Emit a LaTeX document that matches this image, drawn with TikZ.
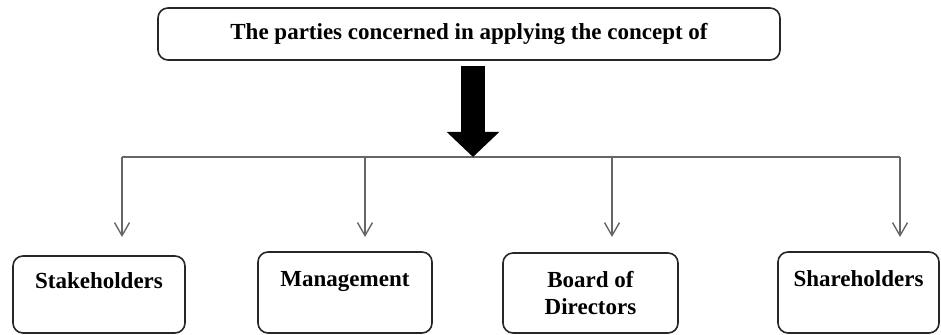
\documentclass[tikz,border=0pt]{standalone}
\usepackage{fontspec}
\setmainfont{Liberation Serif}
\usepackage{tikz}
\usetikzlibrary{arrows.meta}
\usetikzlibrary{calc}

\tikzset{
  party/.style={draw=black!85, line width=0.8pt, rounded corners=5pt, align=center,
    inner sep=0pt, font=\fontsize{11.5}{13.5}\selectfont\bfseries},
  branch/.style={draw=black!60, line width=0.7pt},
}

\begin{document}
\begin{tikzpicture} [x=0.5pt, y=-0.5pt]
\useasboundingbox (0,0) rectangle (941,335);
% heading box
\node[party, minimum width=311pt, minimum height=26pt] (top) at (469,34)
  {The parties concerned in applying the concept of};
% the four parties
\node[party, minimum width=86pt, minimum height=38.5pt] (stake) at (99,294.5) {Stakeholders\\ \mbox{}};
\node[party, minimum width=87pt, minimum height=40.5pt] (mgmt) at (345,292.5) {Management\\ \mbox{}};
\node[party, minimum width=87.5pt, minimum height=40pt] (board) at (590.5,293) {Board of\\ Directors};
\node[party, minimum width=80.5pt, minimum height=40.5pt] (share) at (858.5,292.5) {Shareholders\\ \mbox{}};
% branch line
\coordinate (hub) at (473,157);
\coordinate (l) at (122,157);
\coordinate (r) at (900,157);
\draw[branch] (l) -- (r);
\draw[line width=12pt, -{Triangle[length=12.5pt, width=25.5pt]}] ($(top.south)+(4,5)$) -- (hub);
\foreach \x/\n in {122/stake, 365/mgmt, 612/board, 900/share} {
 \coordinate (\n-in) at (\x,237);
 \draw[branch, -{Straight Barb[length=6.5pt, width=7.5pt]}] (\x,157) -- (\n-in);
}
\end{tikzpicture}
\end{document}
